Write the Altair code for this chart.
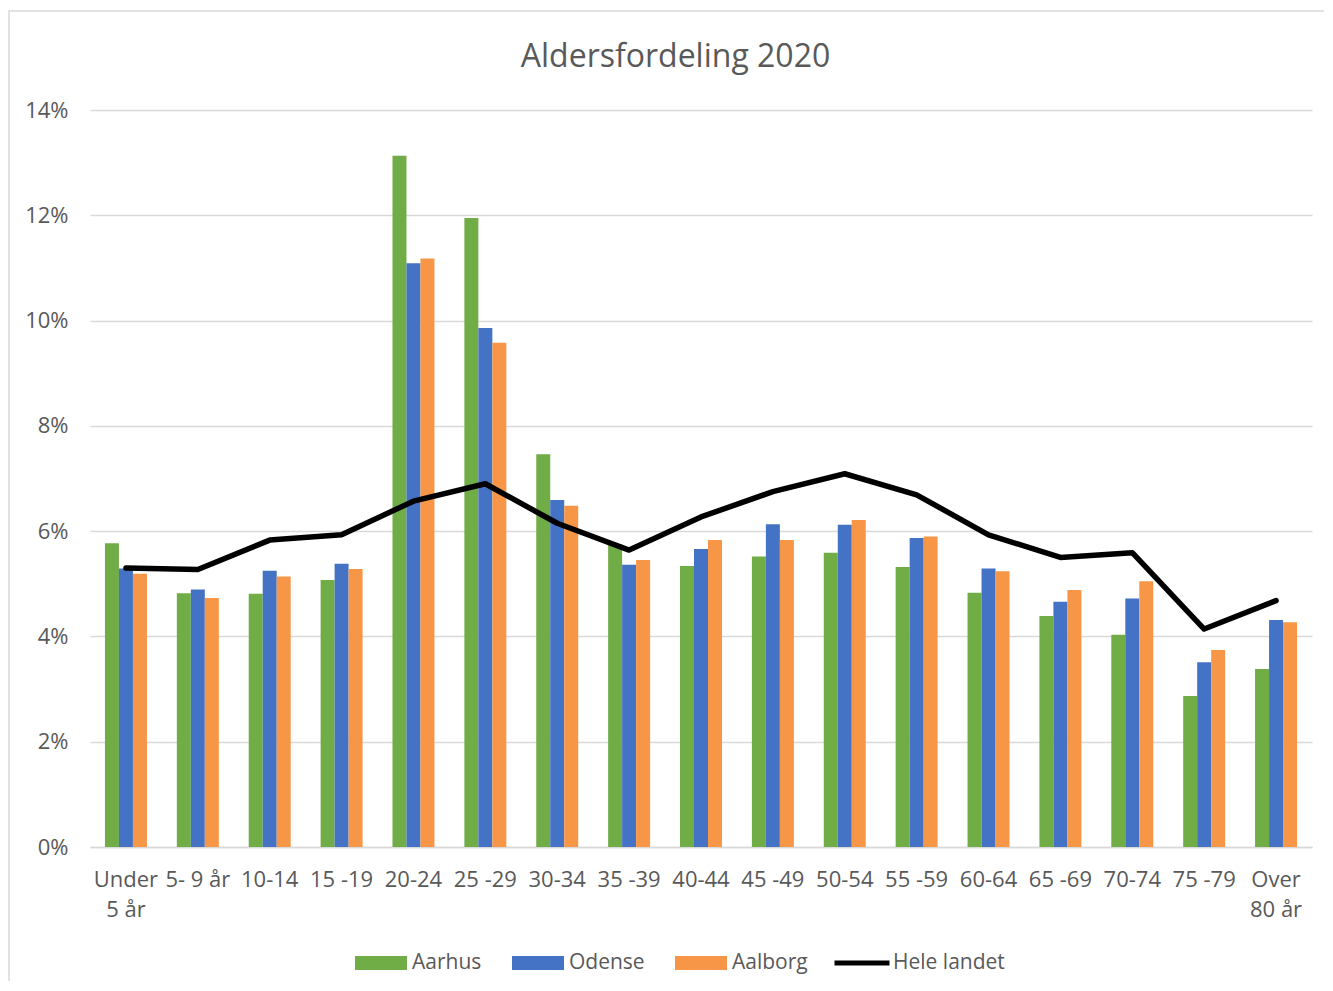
import altair as alt
import pandas as pd

categories = ["Under 5 år", "5- 9 år", "10-14", "15 -19", "20-24", "25 -29", "30-34",
              "35 -39", "40-44", "45 -49", "50-54", "55 -59", "60-64", "65 -69",
              "70-74", "75 -79", "Over 80 år"]
aarhus = [5.77, 4.82, 4.81, 5.07, 13.13, 11.95, 7.46, 5.75, 5.34, 5.52, 5.59, 5.32, 4.83, 4.39, 4.03, 2.87, 3.38]
odense = [5.29, 4.89, 5.25, 5.38, 11.09, 9.86, 6.59, 5.36, 5.66, 6.13, 6.12, 5.87, 5.29, 4.66, 4.72, 3.51, 4.31]
aalborg = [5.19, 4.73, 5.14, 5.28, 11.18, 9.58, 6.48, 5.45, 5.83, 5.83, 6.21, 5.90, 5.24, 4.88, 5.05, 3.74, 4.27]
hele_landet = [5.30, 5.27, 5.83, 5.93, 6.57, 6.90, 6.15, 5.64, 6.27, 6.75, 7.09, 6.69, 5.93, 5.50, 5.59, 4.14, 4.68]

bar_series = ["Aarhus", "Odense", "Aalborg"]
bar_colors = ["#70AD47", "#4472C4", "#F79646"]
line_series = ["Hele landet"]
line_colors = ["#000000"]

rows = []
for name, vals in zip(bar_series, [aarhus, odense, aalborg]):
    for c, v in zip(categories, vals):
        rows.append({"cat": c, "series": name, "value": v / 100})
bar_df = pd.DataFrame(rows)
line_df = pd.DataFrame({"cat": categories, "series": line_series[0],
                        "value": [v / 100 for v in hele_landet]})

FONT = "Open Sans"
TXT = "#595959"
W, H = 1222, 737

x_enc = alt.X(
    "cat:N", sort=categories, title=None,
    scale=alt.Scale(paddingInner=0.416, paddingOuter=0.208),
    axis=alt.Axis(
        labelAngle=0, ticks=False, grid=False, domainColor="#d9d9d9", domainWidth=1.5,
        labelFontSize=22, labelColor=TXT, labelFont=FONT, labelPadding=22,
        labelLineHeight=30,
        labelExpr="datum.value == 'Under 5 år' ? ['Under', '5 år'] : datum.value == 'Over 80 år' ? ['Over', '80 år'] : datum.value",
    ),
)
y_enc = alt.Y(
    "value:Q", title=None,
    scale=alt.Scale(domain=[0, 0.14], nice=False),
    axis=alt.Axis(
        values=[0, 0.02, 0.04, 0.06, 0.08, 0.10, 0.12, 0.14], format=".0%",
        ticks=False, domain=False, gridColor="#d9d9d9", gridWidth=1.5,
        labelFontSize=22, labelColor=TXT, labelFont=FONT, labelPadding=22,
    ),
)

frame = alt.Chart(pd.DataFrame({"a": [0]})).mark_rect(
    fillOpacity=0, stroke="#d9d9d9", strokeWidth=1.5, clip=False
).encode(x=alt.value(-81), x2=alt.value(1270), y=alt.value(-99), y2=alt.value(900))

bars = alt.Chart(bar_df).mark_bar().encode(
    x=x_enc,
    xOffset=alt.XOffset("series:N", sort=bar_series,
                        scale=alt.Scale(paddingInner=0, paddingOuter=0)),
    y=y_enc,
    color=alt.Color(
        "series:N",
        scale=alt.Scale(domain=bar_series, range=bar_colors),
        legend=alt.Legend(
            orient="none", legendX=265, legendY=827, direction="horizontal", title=None,
            symbolType="M-1,-0.27H1V0.27H-1Z", symbolSize=2704,
            symbolStrokeWidth=0, symbolOpacity=1,
            labelFontSize=21, labelColor=TXT, labelFont=FONT, labelOffset=5,
            columnPadding=30,
        ),
    ),
)

line = alt.Chart(line_df).mark_line(
    strokeWidth=5.5, strokeCap="round", strokeJoin="round"
).encode(
    x=x_enc,
    y=y_enc,
    stroke=alt.Stroke(
        "series:N",
        scale=alt.Scale(domain=line_series, range=line_colors),
        legend=alt.Legend(
            orient="none", legendX=742, legendY=823, direction="horizontal", title=None,
            symbolType="stroke", symbolSize=3025, symbolStrokeWidth=5,
            labelFontSize=21, labelColor=TXT, labelFont=FONT, labelOffset=1,
        ),
    ),
)

chart = alt.layer(frame, bars, line).properties(
    width=W, height=H,
    title=alt.Title("Aldersfordeling 2020", fontSize=32, font=FONT, color=TXT,
                    fontWeight="normal", anchor="middle", frame="bounds",
                    offset=0, dy=64, dx=-9),
    autosize=alt.AutoSizeParams(type="none"),
    padding={"left": 82, "top": 102, "right": 12, "bottom": 134},
).resolve_legend(color="independent", stroke="independent").configure(
    font=FONT
).configure_view(
    strokeWidth=0, stroke="transparent"
)

chart.save("out.html", embed_options={"renderer": "svg", "actions": False})
